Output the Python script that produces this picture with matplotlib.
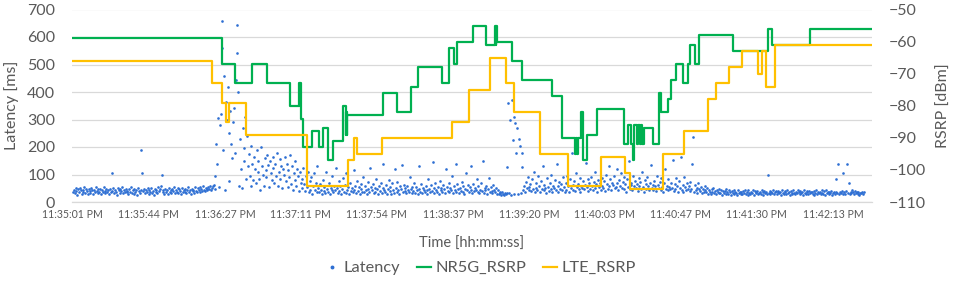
import matplotlib
matplotlib.use('Agg')
import matplotlib.pyplot as plt
from matplotlib.lines import Line2D

plt.rcParams['font.family'] = ['Lato', 'DejaVu Sans']

tick_labels = ['11:35:01 PM', '11:35:44 PM', '11:36:27 PM', '11:37:11 PM', '11:37:54 PM',
               '11:38:37 PM', '11:39:20 PM', '11:40:03 PM', '11:40:47 PM', '11:41:30 PM',
               '11:42:13 PM']
tick_step = 43.2  # seconds between labelled ticks

# Latency samples, one every 0.5 s (ms)
lat_step = 0.5
latency_txt = """
38 45 31 52 40 27 47 35 50 42 30 44 37 55 33 48 41 29 46 39
34 51 43 28 45 37 53 40 32 47 36 49 30 44 38 54 41 33 46 35
42 29 48 36 106 39 52 31 45 38 27 50 43 34 47 40 55 32 44 37
49 35 41 28 46 38 53 33 44 30 48 36 42 26 51 39 34 45 189 106
40 47 31 43 36 52 29 45 38 50 33 41 27 48 37 44 32 53 39 46
59 100 35 42 30 49 38 45 28 51 36 43 34 47 40 55 31 44 37 50
33 46 41 29 52 38 44 35 48 31 42 54 37 45 30 49 39 43 34 56
41 36 50 44 38 53 47 40 58 45 39 52 48 43 55 46 60 42 51 57
62 95 48 210 140 305 55 280 320 659 559 190 458 45 365 300 418 250 75 330
210 160 290 340 180 443 643 543 401 60 230 120 52 270 150 195 310 85 240 130
175 95 60 205 140 80 165 120 70 190 110 150 85 45 200 130 100 60 160 115
90 170 135 55 150 105 80 165 125 70 140 95 180 60 110 155 85 130 50 120
100 165 75 140 55 115 90 170 65 130 45 105 150 80 60 120 95 40 110 70
85 50 125 65 40 95 55 110 35 75 45 90 30 60 105 42 70 38 130 50
35 65 45 28 80 40 55 32 110 48 38 70 30 52 44 95 36 60 42 125
50 33 75 40 58 30 46 88 38 62 34 105 44 55 29 70 41 52 36 115
45 60 32 78 40 53 28 66 47 38 92 35 57 43 30 72 49 37 125 54
42 65 31 50 38 85 46 29 58 40 70 34 52 140 44 36 62 30 48 80
39 55 28 68 45 33 120 50 37 74 42 30 58 46 135 35 63 41 52 32
60 43 36 90 49 31 56 40 70 34 53 45 28 130 47 38 64 33 51 42
37 58 44 30 82 48 35 62 40 145 52 33 68 45 38 55 29 75 43 50
36 61 46 32 120 54 40 70 35 50 44 95 31 57 42 140 38 65 48 34
52 40 73 36 58 30 48 105 42 62 35 55 45 130 33 66 39 50 44 85
38 57 31 45 68 40 150 34 52 43 60 29 47 88 36 54 41 32 63 45
35 50 30 42 28 38 33 26 36 30 27 34 29 128 32 361 31 298 26 371
225 310 30 286 177 268 28 229 204 33 128 178 45 60 38 72 50 90 42 55
65 40 85 48 110 36 70 52 44 95 58 38 75 46 130 42 62 50 34 88
55 40 68 47 100 36 60 52 80 44 140 58 38 72 48 64 42 90 53 35
70 45 95 58 38 82 50 177 62 44 75 40 105 56 66 48 88 36 60 52
78 46 62 141 54 40 85 68 48 92 58 42 74 110 50 64 38 80 56 70
44 88 60 52 76 40 98 66 48 130 58 82 45 70 62 94 50 56 120 68
42 80 60 105 52 72 46 90 64 38 84 56 150 48 70 62 44 96 58 76
50 66 40 88 60 74 46 110 56 36 80 64 48 92 58 42 70 135 52 62
45 78 58 40 96 62 50 72 44 86 54 38 68 120 48 60 42 82 56 46
70 52 153 40 64 48 88 58 36 76 50 165 44 62 38 90 54 42 68 46
58 40 74 48 140 237 36 62 44 52 34 70 46 40 56 32 48 38 60 42
35 50 30 44 38 28 46 36 52 32 40 29 45 37 31 48 34 42 27 39
33 41 28 46 36 30 43 35 26 39 32 44 29 37 34 27 42 31 38 30
36 28 40 33 45 30 38 26 42 34 29 37 32 44 27 39 35 31 41 28
34 38 30 43 36 27 40 32 35 29 98 33 41 28 37 31 44 30 36 39
29 35 41 31 38 27 44 33 30 40 36 28 42 32 37 26 39 34 30 43
33 28 38 31 45 35 29 40 32 37 27 42 34 30 39 36 28 41 31 35
37 30 26 40 33 44 29 36 31 38 28 42 34 30 39 27 43 32 35 29
36 31 40 27 34 38 30 35 83 32 138 29 37 33 41 107 28 36 30 39
138 33 68 29 38 31 42 35 28 40 33 37 30 36 27 34 31 38 29 35
"""
latency = [int(v) for v in latency_txt.split()]
t_lat = [i * lat_step for i in range(len(latency))]

# NR5G RSRP change points (seconds from start, dBm)
nr_t = [0, 84.9, 92.1, 101.6, 110.1, 123.4, 128.5, 128.9, 129.3, 129.7, 130.6, 136.0, 139.8,
        142.3, 144.8, 147.6, 153.7, 155.0, 155.3, 155.6, 156.0, 176.0, 184.4, 192.0, 196.0,
        209.6, 213.8, 216.8, 218.5, 227.2, 234.8, 240.0, 240.4, 240.7, 241.1, 249.5, 255.0,
        272.5, 277.8, 285.6, 286.2, 286.8, 287.3, 288.6, 290.1, 292.4, 297.7, 313.2, 315.4,
        317.1, 318.6, 319.2, 320.5, 321.4, 322.2, 322.9, 323.7, 324.6, 329.9, 333.3, 334.3,
        338.4, 339.8, 342.8, 346.7, 349.8, 350.8, 353.6, 355.9, 375.0, 394.9, 397.2, 419.0]
nr_v = [-59, -67, -73, -67, -73, -80, -73, -80, -73, -84, -93, -88, -93,
        -87, -97, -91, -80, -89, -82, -89, -83, -76, -82, -74, -68,
        -73, -62, -67, -60, -55, -61, -55, -61, -55, -60, -66, -72,
        -77, -90, -95, -90, -95, -90, -82, -97, -89, -81, -92, -86,
        -92, -97, -86, -92, -86, -92, -86, -92, -87, -92, -76, -82,
        -78, -72, -67, -73, -67, -61, -67, -58, -63, -56, -61, -56]

# LTE RSRP change points (seconds from start, dBm)
lte_t = [0, 79.2, 84.5, 86.8, 88.9, 98.2, 133.0, 156.5, 159.7, 161.6, 175.7, 215.6, 225.3,
         236.9, 245.9, 250.6, 265.3, 281.4, 300.3, 313.8, 316.7, 335.6, 347.4, 361.2, 365.8,
         373.1, 380.1, 389.2, 391.9, 394.0, 399.1]
lte_v = [-66, -73, -79, -85, -79, -89, -105, -97, -90, -95, -90, -85, -75,
         -65, -73, -82, -95, -105, -96, -101, -106, -95, -88, -78, -73,
         -68, -63, -70, -63, -74, -61]
t_end = 453.5

blue = '#2E6FD3'
green = '#00B050'
yellow = '#FFC000'
grey_txt = '#595959'
grid_c = '#D9D9D9'

fig = plt.figure(figsize=(9.55, 2.81), dpi=100)
ax = fig.add_axes([72 / 955, 1 - 202 / 281, 800 / 955, (202 - 9.5) / 281])
ax2 = ax.twinx()

ax.scatter(t_lat, latency, s=3.6, color=blue, linewidths=0, zorder=3)

ax2.step(nr_t + [t_end], nr_v + [nr_v[-1]], where='post', color=green, lw=1.6, zorder=4)
ax2.step(lte_t + [t_end], lte_v + [lte_v[-1]], where='post', color=yellow, lw=1.6, zorder=4)

ax.set_xlim(-0.5, 454.2)
ax.set_ylim(0, 700)
ax2.set_ylim(-110, -50)
ax.set_yticks(range(0, 701, 100))
ax2.set_yticks(range(-110, -49, 10))
ax.set_xticks([i * tick_step for i in range(len(tick_labels))])
ax.set_xticklabels(tick_labels)

ax.grid(axis='y', color=grid_c, lw=0.9, zorder=0)
ax.set_axisbelow(True)
for a in (ax, ax2):
    for s in a.spines.values():
        s.set_visible(False)
    a.tick_params(length=0, colors=grey_txt)
ax.spines['bottom'].set_visible(True)
ax.spines['bottom'].set_color(grid_c)
ax.spines['bottom'].set_linewidth(0.9)

ax.tick_params(axis='y', labelsize=11.5, pad=12)
ax2.tick_params(axis='y', labelsize=11.5, pad=12)
ax.tick_params(axis='x', labelsize=7.6, pad=5)

ax.set_ylabel('Latency [ms]', fontsize=11.5, color=grey_txt, labelpad=6)
ax2.set_ylabel('RSRP [dBm]', fontsize=11.5, color=grey_txt, labelpad=8)
ax.set_xlabel('Time [hh:mm:ss]', fontsize=10.5, color=grey_txt, labelpad=12)

handles = [Line2D([], [], marker='o', ls='none', color=blue, markersize=1.8),
           Line2D([], [], color=green, lw=1.6),
           Line2D([], [], color=yellow, lw=1.6)]
leg = fig.legend(handles, ['Latency', 'NR5G_RSRP', 'LTE_RSRP'], loc='center',
                 bbox_to_anchor=(0.503, 1 - 268 / 281), ncol=3, frameon=False,
                 fontsize=11.8, handlelength=0.9, handletextpad=0.25, columnspacing=1.0)
for t in leg.get_texts():
    t.set_color(grey_txt)

fig.savefig('out.png', dpi=100)
